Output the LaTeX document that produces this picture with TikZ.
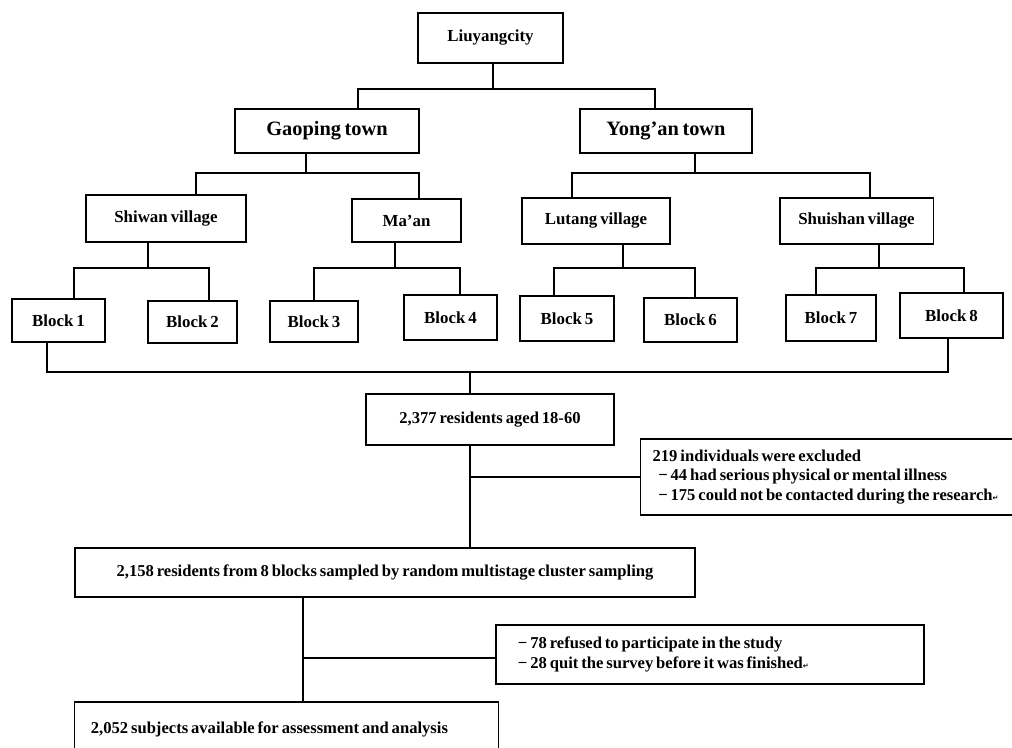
\documentclass[tikz,border=0pt]{standalone}
\usepackage{fontspec}
\setmainfont[WordSpace=0.7]{Liberation Serif}
\newfontfamily\symfont{DejaVu Sans}
\usepackage{tikz}

\begin{document}
\begin{tikzpicture}[x=0.025cm, y=-0.025cm,
  box/.style={draw, line width=0.9pt, inner sep=0pt, font=\bfseries\fontsize{12}{14}\selectfont},
  townbox/.style={box, font=\bfseries\fontsize{14.5}{16}\selectfont},
  notebox/.style={draw, line width=0.9pt, align=left, inner ysep=0pt, font=\bfseries\fontsize{11.8}{13.8}\selectfont,
    execute at begin node={\spaceskip=0pt\xspaceskip=0pt\relax}},
  link/.style={line width=0.9pt}]
% Fond si decupare la marginile imaginii
\fill[white] (0,0) rectangle (1012,748);
\clip (0,0) rectangle (1012,748);

% Oras
\node[box, minimum width=3.63cm, minimum height=1.25cm] (city) at (490.5,38) {Liuyangcity};

% Orase mici
\node[townbox, minimum width=4.6cm, minimum height=1.1cm] (gaoping) at (327,131) {Gaoping town};
\node[townbox, minimum width=4.3cm, minimum height=1.1cm] (yongan) at (666,131) {Yong'an town};

% Sate
\node[box, minimum width=4.0cm, minimum height=1.18cm] (shiwan) at (166,218.5) {Shiwan village};
\node[box, minimum width=2.73cm, minimum height=1.08cm] (maan) at (406.5,220.5) {Ma'an};
\node[box, minimum width=3.7cm, minimum height=1.15cm] (lutang) at (596,221) {Lutang village};
\node[box, minimum width=3.83cm, minimum height=1.15cm] (shuishan) at (856.5,221) {Shuishan village};

% Blocuri
\node[box, minimum width=2.33cm, minimum height=1.08cm] (block1) at (58.5,320.5) {Block 1};
\node[box, minimum width=2.23cm, minimum height=1.05cm] (block2) at (192.5,322) {Block 2};
\node[box, minimum width=2.2cm, minimum height=1.03cm] (block3) at (314,321.5) {Block 3};
\node[box, minimum width=2.33cm, minimum height=1.13cm] (block4) at (450.5,317.5) {Block 4};
\node[box, minimum width=2.35cm, minimum height=1.13cm] (block5) at (567,318.5) {Block 5};
\node[box, minimum width=2.33cm, minimum height=1.1cm] (block6) at (690.5,320) {Block 6};
\node[box, minimum width=2.25cm, minimum height=1.15cm] (block7) at (831,318) {Block 7};
\node[box, minimum width=2.58cm, minimum height=1.13cm] (block8) at (951.5,315.5) {Block 8};

% Fluxul participantilor
\node[notebox, minimum width=6.2cm, minimum height=1.28cm, align=center] (aged) at (490,419.5) {2,377 residents aged 18-60};
\node[notebox, anchor=west, text width=9.4cm, inner xsep=0.3cm, minimum height=1.9cm] (excl) at (640,477)
  {219 individuals were excluded\\
   \hspace{4pt}− 44 had serious physical or mental illness\\
   \hspace{4pt}− 175 could not be contacted during the research{\symfont\tiny ↵}};
\node[notebox, minimum width=15.5cm, minimum height=1.23cm, align=center] (sampled) at (385,572.5) {2,158 residents from 8 blocks sampled by random multistage cluster sampling};
\node[notebox, text width=9.6cm, inner xsep=0.55cm, minimum height=1.48cm] (refused) at (710,654.5)
  {− 78 refused to participate in the study\\
   − 28 quit the survey before it was finished{\symfont\tiny ↵}};
\node[notebox, text width=9.78cm, inner xsep=0.4cm, minimum height=1.35cm] (avail) at (286.5,729) {2,052 subjects available for assessment and analysis};

% Puncte de ramificare
\coordinate (t0) at (493,89);   \coordinate (l0) at (358,89);   \coordinate (r0) at (655,89);
\coordinate (tg) at (306,173);  \coordinate (lg) at (196,173);  \coordinate (rg) at (419,173);
\coordinate (ty) at (695,173);  \coordinate (ly) at (572,173);  \coordinate (ry) at (870,173);
\coordinate (ts) at (148,268);  \coordinate (ls) at (74,268);   \coordinate (rs) at (209,268);
\coordinate (tm) at (395,268);  \coordinate (lm) at (314,268);  \coordinate (rm) at (460,268);
\coordinate (tl) at (623,268);  \coordinate (ll) at (554,268);  \coordinate (rl) at (695,268);
\coordinate (tsh) at (879,268); \coordinate (lsh) at (816,268); \coordinate (rsh) at (964,268);
\coordinate (tb) at (470,372);  \coordinate (lb) at (47,372);   \coordinate (rb) at (948,372);
\coordinate (tr) at (303,658);

% Legaturi arbore
\draw[link] (city.south -| t0) -- (t0);
\draw[link] (gaoping.north -| l0) -- (l0) -- (r0) -- (yongan.north -| r0);
\draw[link] (gaoping.south -| tg) -- (tg);
\draw[link] (shiwan.north -| lg) -- (lg) -- (rg) -- (maan.north -| rg);
\draw[link] (yongan.south -| ty) -- (ty);
\draw[link] (lutang.north -| ly) -- (ly) -- (ry) -- (shuishan.north -| ry);
\draw[link] (shiwan.south -| ts) -- (ts);
\draw[link] (block1.north -| ls) -- (ls) -- (rs) -- (block2.north -| rs);
\draw[link] (maan.south -| tm) -- (tm);
\draw[link] (block3.north -| lm) -- (lm) -- (rm) -- (block4.north -| rm);
\draw[link] (lutang.south -| tl) -- (tl);
\draw[link] (block5.north -| ll) -- (ll) -- (rl) -- (block6.north -| rl);
\draw[link] (shuishan.south -| tsh) -- (tsh);
\draw[link] (block7.north -| lsh) -- (lsh) -- (rsh) -- (block8.north -| rsh);

% Colectare blocuri
\draw[link] (block1.south -| lb) -- (lb) -- (rb) -- (block8.south -| rb);
\draw[link] (tb) -- (aged.north -| tb);

% Excluderi
\draw[link] (aged.south -| tb) -- (sampled.north -| tb);
\draw[link] (excl.west -| tb) -- (excl.west);
\draw[link] (sampled.south -| tr) -- (avail.north -| tr);
\draw[link] (tr) -- (tr -| refused.west);
\end{tikzpicture}
\end{document}
